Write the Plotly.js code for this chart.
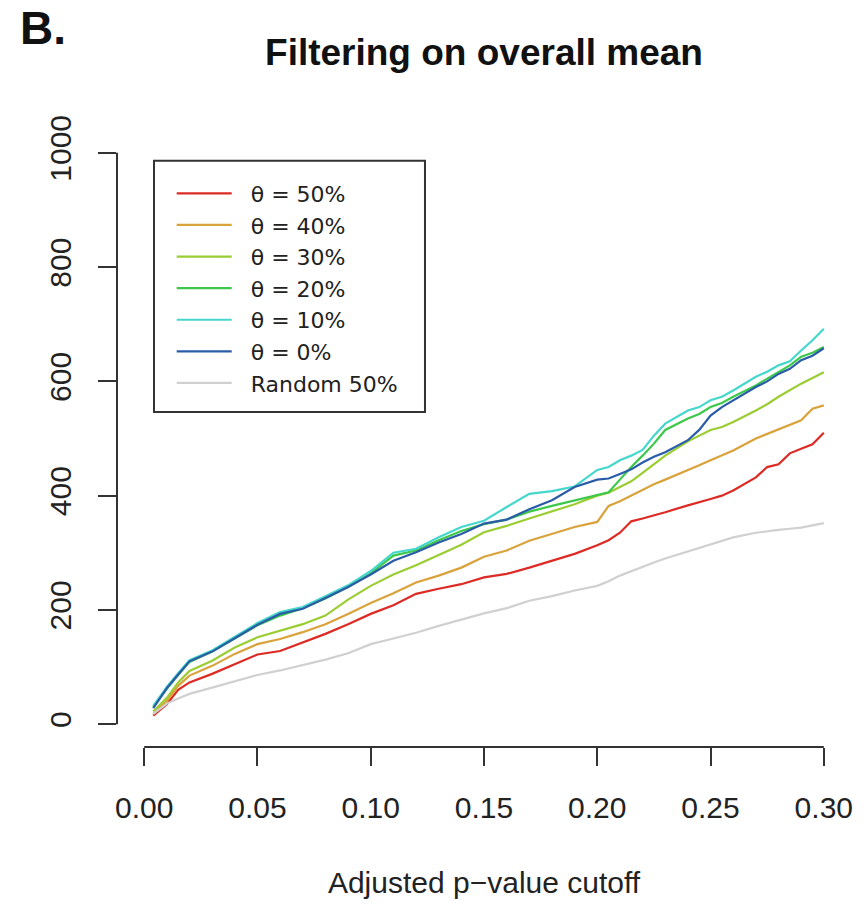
<!DOCTYPE html>
<html>
<head>
<meta charset="utf-8">
<script src="https://cdn.plot.ly/plotly-3.0.1.min.js"></script>
<style>
  html, body { margin: 0; padding: 0; background: #fff; }
  #chart { width: 865px; height: 903px; }
</style>
</head>
<body>
<div id="chart"></div>
<script>
// adjusted p-value cutoffs (shared by every curve)
var CUTOFF = [0.004, 0.01, 0.015, 0.02, 0.03, 0.04, 0.05, 0.06, 0.07, 0.08,
  0.09, 0.10, 0.11, 0.12, 0.13, 0.14, 0.15, 0.16, 0.17, 0.18,
  0.19, 0.20, 0.205, 0.21, 0.215, 0.22, 0.225, 0.23, 0.24, 0.245,
  0.25, 0.255, 0.26, 0.27, 0.275, 0.28, 0.285, 0.29, 0.295, 0.30];

var THETA_50 = [15, 35, 60, 73, 88, 105, 122, 128, 143, 158,
  175, 193, 208, 228, 237, 245, 257, 263, 274, 286,
  298, 313, 322, 335, 355, 360, 365, 371, 383, 388,
  394, 400, 409, 432, 450, 455, 474, 482, 490, 510];
var THETA_40 = [18, 41, 67, 85, 102, 123, 140, 149, 161, 175,
  193, 212, 229, 248, 260, 274, 293, 304, 321, 333,
  345, 354, 382, 390, 400, 410, 420, 428, 444, 453,
  462, 470, 479, 500, 508, 517, 524, 532, 552, 558];
var THETA_30 = [22, 46, 73, 93, 111, 134, 152, 164, 175, 190,
  218, 242, 262, 278, 296, 314, 336, 347, 360, 372,
  385, 400, 405, 415, 425, 440, 455, 470, 495, 505,
  515, 520, 529, 549, 560, 573, 585, 596, 606, 616];
var THETA_20 = [30, 62, 86, 109, 127, 150, 173, 190, 203, 220,
  240, 264, 295, 304, 322, 338, 350, 358, 372, 382,
  392, 402, 406, 428, 450, 470, 491, 515, 535, 543,
  555, 562, 573, 593, 605, 616, 628, 643, 650, 660];
var THETA_10 = [32, 65, 89, 112, 129, 153, 177, 196, 205, 224,
  243, 268, 300, 307, 327, 345, 356, 380, 403, 408,
  416, 445, 450, 462, 470, 480, 505, 526, 549, 555,
  567, 573, 584, 608, 617, 628, 635, 654, 672, 692];
var THETA_0 = [28, 63, 87, 110, 127, 150, 174, 193, 202, 221,
  240, 262, 286, 301, 318, 333, 351, 358, 376, 392,
  415, 428, 430, 438, 446, 458, 468, 476, 497, 515,
  540, 555, 567, 590, 600, 613, 622, 637, 645, 658];
var RANDOM_50 = [18, 36, 45, 53, 64, 75, 86, 94, 103, 113,
  124, 140, 150, 160, 172, 183, 194, 203, 216, 224,
  234, 242, 250, 260, 268, 275, 283, 290, 302, 309,
  315, 321, 327, 335, 338, 340, 342, 344, 348, 352];

var SERIES_NAMES = ["θ = 50%", "θ = 40%", "θ = 30%", "θ = 20%", "θ = 10%", "θ = 0%", "Random 50%"];
var SERIES_COLORS = ["#DC2A24", "#D9A23A", "#9ACD32", "#3CC84A", "#45D6CC", "#2A5CA8", "#D0D0D0"];

var X_TICKS = [0, 0.05, 0.10, 0.15, 0.20, 0.25, 0.30];
var X_TICK_TEXT = ["0.00", "0.05", "0.10", "0.15", "0.20", "0.25", "0.30"];
var Y_TICKS = [0, 200, 400, 600, 800, 1000];

(function () {
  var FONT = "Liberation Sans, Arial, Helvetica, sans-serif";
  var LEGEND_FONT = "DejaVu Sans, Liberation Sans, sans-serif";
  var INK = "#333333";
  var GAP = "\u00A0\u00A0";

  function buildTraces() {
    var cols = [THETA_50, THETA_40, THETA_30, THETA_20, THETA_10, THETA_0, RANDOM_50];
    return cols.map(function (ys, i) {
      return {
        x: CUTOFF,
        y: ys,
        type: "scatter",
        mode: "lines",
        name: GAP + SERIES_NAMES[i],
        line: { color: SERIES_COLORS[i], width: 2.2 },
        hoverinfo: "skip",
      };
    });
  }

  function frameShapes() {
    // R style axes: line only spans the first to last tick
    return [
      {
        type: "line", xref: "x", yref: "paper",
        x0: X_TICKS[0], x1: X_TICKS[X_TICKS.length - 1], y0: 0, y1: 0,
        line: { color: INK, width: 2 },
      },
      {
        type: "line", xref: "paper", yref: "y",
        x0: 0, x1: 0, y0: Y_TICKS[0], y1: Y_TICKS[Y_TICKS.length - 1],
        line: { color: INK, width: 2 },
      },
      // legend box
      {
        type: "rect", xref: "paper", yref: "paper", layer: "below",
        x0: 0.0504, x1: 0.4196, y0: 0.543, y1: 0.950,
        line: { color: INK, width: 2 },
        fillcolor: "#ffffff",
      },
    ];
  }

  var layout = {
    width: 865,
    height: 903,
    margin: { l: 117, r: 14, t: 130, b: 156 },
    paper_bgcolor: "#ffffff",
    plot_bgcolor: "#ffffff",
    font: { family: FONT, color: "#222222", size: 30 },
    title: {
      text: "Filtering on overall mean",
      font: { family: FONT, size: 37, weight: 700, color: "#111111" },
      x: 0.5, xref: "paper", xanchor: "center",
      y: 0.942, yref: "container", yanchor: "middle",
    },
    xaxis: {
      range: [-0.012, 0.312],
      tickvals: X_TICKS,
      ticktext: X_TICK_TEXT,
      ticks: "outside",
      ticklen: 18,
      tickwidth: 2,
      tickcolor: INK,
      ticklabelstandoff: 16,
      showgrid: false,
      zeroline: false,
      showline: false,
      tickfont: { family: FONT, size: 30, color: "#222222" },
      title: {
        text: "Adjusted p\u2212value cutoff",
        font: { family: FONT, size: 30, color: "#222222" },
        standoff: 48,
      },
    },
    yaxis: {
      range: [-40, 1040],
      tickvals: Y_TICKS,
      ticks: "outside",
      ticklen: 18,
      tickwidth: 2,
      tickcolor: INK,
      tickangle: -90,
      ticklabelstandoff: 15,
      showgrid: false,
      zeroline: false,
      showline: false,
      tickfont: { family: FONT, size: 30, color: "#222222" },
    },
    showlegend: true,
    legend: {
      x: 0.05, xanchor: "left",
      y: 0.931, yanchor: "top",
      bgcolor: "rgba(0,0,0,0)",
      borderwidth: 0,
      indentation: 18,
      font: { family: LEGEND_FONT, size: 22, color: "#222222" },
      itemwidth: 55,
      traceorder: "normal",
    },
    shapes: frameShapes(),
    annotations: [
      {
        text: "<b>B.</b>",
        xref: "paper", yref: "paper",
        x: -0.135, xanchor: "left",
        y: 1.165, yanchor: "middle",
        showarrow: false,
        font: { family: FONT, size: 46, color: "#111111" },
      },
    ],
  };

  Plotly.newPlot("chart", buildTraces(), layout, { displayModeBar: false, staticPlot: true });
})();
</script>
</body>
</html>
